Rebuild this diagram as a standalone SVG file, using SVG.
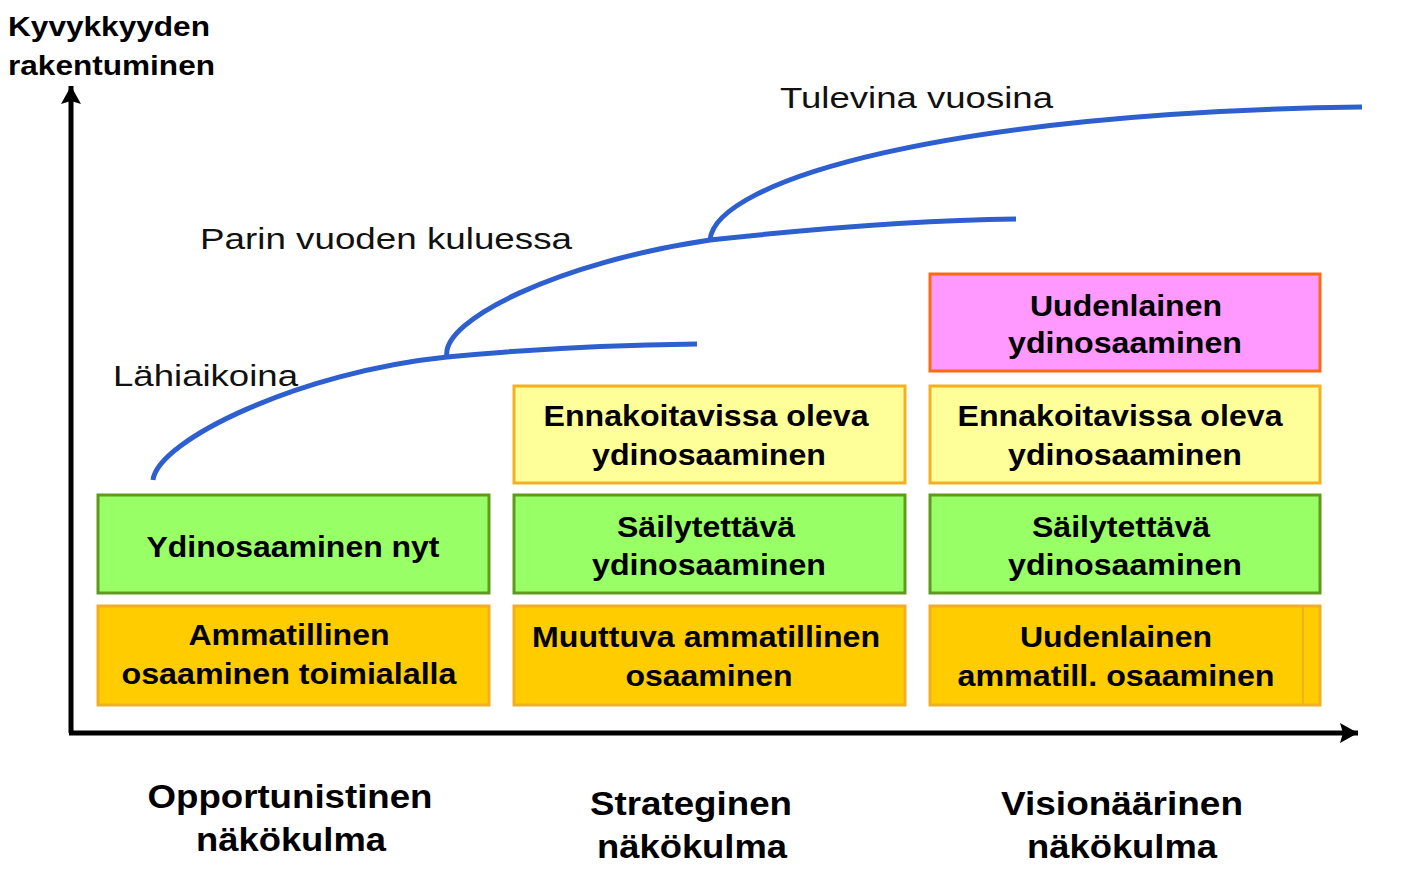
<svg xmlns="http://www.w3.org/2000/svg" width="1406" height="874" viewBox="0 0 1406 874">
<style>
text{font-family:"Liberation Sans",Arial,sans-serif;fill:#000}
.b{font-weight:bold;font-size:29px;text-anchor:middle}
.ax{font-weight:bold;font-size:28px}
.lab{font-size:30px;fill:#111}
.pl{font-weight:bold;font-size:34px;text-anchor:middle}
.green{fill:#99ff66;stroke:#5f9a1a;stroke-width:3}
.orange{fill:#ffcc00;stroke:#f0b020;stroke-width:3}
.yellow{fill:#ffff99;stroke:#f5b020;stroke-width:3}
.pink{fill:#ff99ff;stroke:#ff6a10;stroke-width:3}
.curve{fill:none;stroke:#2d5fcf;stroke-width:5}
.axis{stroke:#000;stroke-width:5;fill:none}
</style>
<defs>
<marker id="ah" markerUnits="userSpaceOnUse" markerWidth="22" markerHeight="22" refX="18" refY="10" orient="auto">
<polygon points="0,0 18,10 0,20 3,10" fill="#000"/>
</marker>
</defs>
<g id="axes">
<line class="axis" x1="71" y1="733" x2="71" y2="86" marker-end="url(#ah)"/>
<line class="axis" x1="69" y1="733" x2="1358" y2="733" marker-end="url(#ah)"/>
<text class="ax" x="8" y="36" textLength="202" lengthAdjust="spacingAndGlyphs">Kyvykkyyden</text>
<text class="ax" x="8" y="75" textLength="207" lengthAdjust="spacingAndGlyphs">rakentuminen</text>
</g>
<g id="connectors">
<path class="curve" d="M153,480 C158,440 300,372 447,357 C540,348 620,345 697,344"/>
<path class="curve" d="M447,357 C440,320 560,262 710,240 C820,228 930,220 1016,219"/>
<path class="curve" d="M710,240 C715,180 950,112 1362,107"/>
</g>
<g id="labels">
<text class="lab" x="113" y="386" textLength="185" lengthAdjust="spacingAndGlyphs">Lähiaikoina</text>
<text class="lab" x="200" y="249" textLength="372" lengthAdjust="spacingAndGlyphs">Parin vuoden kuluessa</text>
<text class="lab" x="780" y="108" textLength="273" lengthAdjust="spacingAndGlyphs">Tulevina vuosina</text>
</g>
<g id="n-ydin-nyt">
<rect class="green" x="98" y="495" width="391" height="98"/>
<text class="b" x="293" y="557" textLength="293" lengthAdjust="spacingAndGlyphs">Ydinosaaminen nyt</text>
</g>
<g id="n-ammatillinen">
<rect class="orange" x="98" y="606" width="391" height="99"/>
<text class="b" x="289" y="645" textLength="201" lengthAdjust="spacingAndGlyphs">Ammatillinen</text>
<text class="b" x="289" y="684" textLength="335" lengthAdjust="spacingAndGlyphs">osaaminen toimialalla</text>
</g>
<g id="n-ennak-2">
<rect class="yellow" x="514" y="386" width="391" height="97"/>
<text class="b" x="706" y="426" textLength="325" lengthAdjust="spacingAndGlyphs">Ennakoitavissa oleva</text>
<text class="b" x="709" y="465" textLength="234" lengthAdjust="spacingAndGlyphs">ydinosaaminen</text>
</g>
<g id="n-sailyt-2">
<rect class="green" x="514" y="495" width="391" height="98"/>
<text class="b" x="706" y="537" textLength="178" lengthAdjust="spacingAndGlyphs">Säilytettävä</text>
<text class="b" x="709" y="575" textLength="234" lengthAdjust="spacingAndGlyphs">ydinosaaminen</text>
</g>
<g id="n-muuttuva">
<rect class="orange" x="514" y="606" width="391" height="99"/>
<text class="b" x="706" y="647" textLength="348" lengthAdjust="spacingAndGlyphs">Muuttuva ammatillinen</text>
<text class="b" x="709" y="686" textLength="167" lengthAdjust="spacingAndGlyphs">osaaminen</text>
</g>
<g id="n-uud-ydin">
<rect class="pink" x="930" y="274" width="390" height="97"/>
<text class="b" x="1126" y="316" textLength="192" lengthAdjust="spacingAndGlyphs">Uudenlainen</text>
<text class="b" x="1125" y="353" textLength="234" lengthAdjust="spacingAndGlyphs">ydinosaaminen</text>
</g>
<g id="n-ennak-3">
<rect class="yellow" x="930" y="386" width="390" height="97"/>
<text class="b" x="1120" y="426" textLength="325" lengthAdjust="spacingAndGlyphs">Ennakoitavissa oleva</text>
<text class="b" x="1125" y="465" textLength="234" lengthAdjust="spacingAndGlyphs">ydinosaaminen</text>
</g>
<g id="n-sailyt-3">
<rect class="green" x="930" y="495" width="390" height="98"/>
<text class="b" x="1121" y="537" textLength="178" lengthAdjust="spacingAndGlyphs">Säilytettävä</text>
<text class="b" x="1125" y="575" textLength="234" lengthAdjust="spacingAndGlyphs">ydinosaaminen</text>
</g>
<g id="n-uud-amm">
<rect class="orange" x="930" y="606" width="390" height="99"/>
<line x1="1303" y1="607" x2="1303" y2="704" stroke="#f0b020" stroke-width="2"/>
<text class="b" x="1116" y="647" textLength="192" lengthAdjust="spacingAndGlyphs">Uudenlainen</text>
<text class="b" x="1116" y="686" textLength="317" lengthAdjust="spacingAndGlyphs">ammatill. osaaminen</text>
</g>
<g id="perspectives">
<text class="pl" x="290" y="808" textLength="285" lengthAdjust="spacingAndGlyphs">Opportunistinen</text>
<text class="pl" x="291" y="851" textLength="190" lengthAdjust="spacingAndGlyphs">näkökulma</text>
<text class="pl" x="691" y="815" textLength="202" lengthAdjust="spacingAndGlyphs">Strateginen</text>
<text class="pl" x="692" y="858" textLength="190" lengthAdjust="spacingAndGlyphs">näkökulma</text>
<text class="pl" x="1122" y="815" textLength="242" lengthAdjust="spacingAndGlyphs">Visionäärinen</text>
<text class="pl" x="1122" y="858" textLength="190" lengthAdjust="spacingAndGlyphs">näkökulma</text>
</g>
</svg>
